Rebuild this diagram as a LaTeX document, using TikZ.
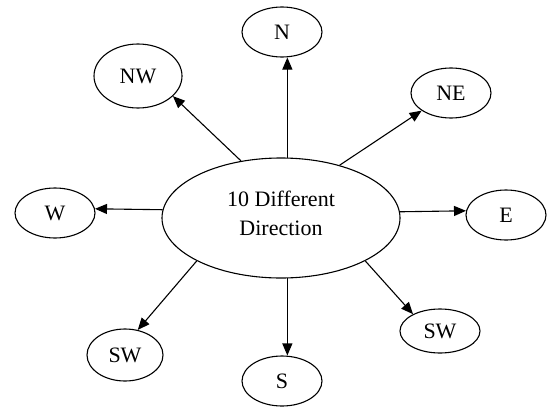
\documentclass[tikz,border=0pt]{standalone}
\usepackage{fontspec}
\setmainfont{Liberation Serif}
\usetikzlibrary{shapes.geometric,arrows.meta}

\tikzset{
  dirnode/.style={draw, ellipse, line width=1.1pt, inner sep=0pt,
    font=\fontsize{22}{28}\selectfont},
  small/.style={dirnode, minimum width=80pt, minimum height=50pt},
  hub/.style={dirnode, minimum width=238pt, minimum height=120pt},
  link/.style={line width=1.1pt, -{Triangle[length=12pt,width=10pt]}}
}

\begin{document}
\begin{tikzpicture}[x=1pt,y=-1pt]
  \useasboundingbox (0,0) rectangle (551,407);

  % central hub; the invisible strut deepens the text box so the
  % two lines sit a little above the ellipse centre
  \node[hub] (c) at (281,218)
    {\begin{tabular}{@{}c@{}}10 Different\\[1pt]Direction\end{tabular}\rule[-28pt]{0pt}{28pt}};

  % surrounding direction nodes
  \node[small] (n)  at (282,32)  {N};
  \node[small, minimum width=88pt, minimum height=64pt] (nw) at (138,76) {NW};
  \node[small] (ne) at (451,93)  {NE};
  \node[small] (w)  at (55,213)  {W};
  \node[small] (e)  at (506,215) {E};
  \node[small, minimum width=76pt, minimum height=52pt] (swl) at (125,355) {SW};
  \node[small, minimum height=44pt] (swr) at (440,331) {SW};
  \node[small] (s)  at (282,381) {S};

  % connectors
  \draw[link] (c.84)  -- (c.84 |- n.south);
  \draw[link] (c.125) -- (nw.-30);
  \draw[link] (c.42)  -- (ne.-149);
  \draw[link] (c.176) -- (w.6);
  \draw[link] (c.3)   -- (e.174);
  \draw[link] (c.207) -- (swl.63);
  \draw[link] (c.-27) -- (swr.148);
  \draw[link] (c.-84) -- (c.-84 |- s.north);
\end{tikzpicture}
\end{document}
